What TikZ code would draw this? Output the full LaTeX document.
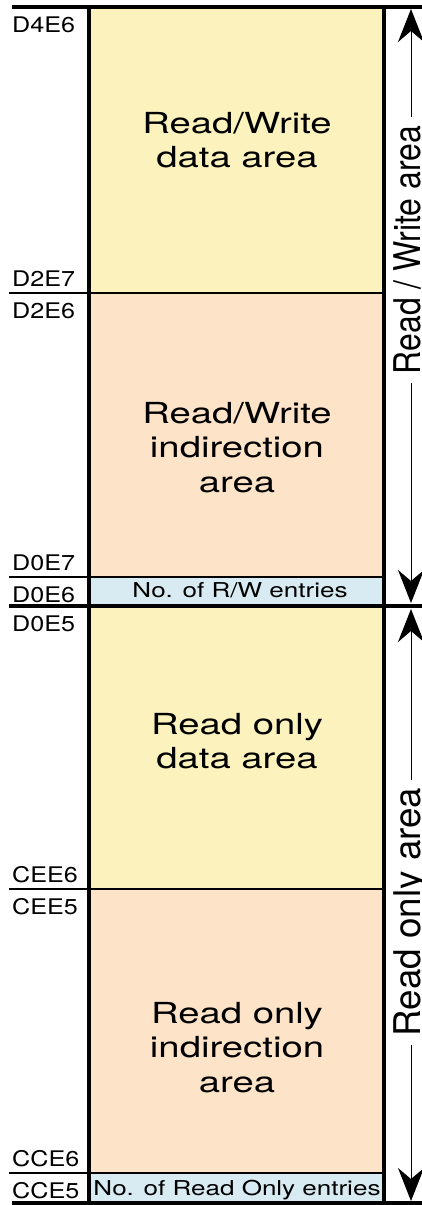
\documentclass[tikz,border=0pt]{standalone}
\usepackage{fontspec}
\setmainfont{TeX Gyre Heros}
\usepackage{graphicx}
\usetikzlibrary{arrows.meta}
\definecolor{areaYellow}{RGB}{251,242,190}
\definecolor{areaPeach}{RGB}{253,227,200}
\definecolor{areaBlue}{RGB}{216,235,242}
\newcommand{\mystack}[1]{\begin{tabular}[t]{@{}c@{}}#1\end{tabular}}
\begin{document}
\begin{tikzpicture}[x=1pt,y=-1pt,
  heavy/.style={line width=4pt},
  light/.style={line width=1.1pt},
  cell/.style={draw=none, inner sep=0pt, outer sep=0pt, anchor=north west, minimum width=295pt},
  addr/.style={anchor=base west, inner sep=0pt, font=\fontsize{21.5}{24}\selectfont},
  areatxt/.style={anchor=base, inner sep=0pt, font=\fontsize{29}{34.5}\selectfont},
  cnttxt/.style={anchor=base, inner sep=0pt, font=\fontsize{20.5}{24}\selectfont},
  sidetxt/.style={rotate=90, anchor=base, inner sep=0pt, font=\fontsize{32}{36}\selectfont},
  span/.style={line width=1pt, shorten <=8pt, -{Stealth[length=33pt,width=26pt,inset=11pt]}}
]
\useasboundingbox (0,0) rectangle (422,1205);

% cells
\node[cell, fill=areaYellow, minimum height=286pt] (rwdata) at (89,7) {};
\node[cell, fill=areaPeach,  minimum height=284pt] (rwind)  at (89,293) {};
\node[cell, fill=areaBlue,   minimum height=29pt]  (rwcnt)  at (89,577) {};
\node[cell, fill=areaYellow, minimum height=283pt] (rodata) at (89,606) {};
\node[cell, fill=areaPeach,  minimum height=284pt] (roind)  at (89,889) {};
\node[cell, fill=areaBlue,   minimum height=30pt]  (rocnt)  at (89,1173) {};

% cell texts
\node[areatxt] (rwdataT) at (237,133)  {\scalebox{1.32}[1]{\mystack{Read/Write\\data area}}};
\node[areatxt] (rwindT)  at (237,423)  {\scalebox{1.32}[1]{\mystack{Read/Write\\indirection\\area}}};
\node[areatxt] (rodataT) at (237,734)  {\scalebox{1.32}[1]{\mystack{Read only\\data area}}};
\node[areatxt] (roindT)  at (237,1023) {\scalebox{1.32}[1]{\mystack{Read only\\indirection\\area}}};
\node[cnttxt]  (rwcntT)  at (240,597)  {\scalebox{1.27}[1]{No. of R/W entries}};
\node[cnttxt]  (rocntT)  at (237,1195) {\scalebox{1.27}[1]{No. of Read Only entries}};

% address labels
\node[addr] (a1) at (12,32)   {\scalebox{1.17}[1]{D4E6}};
\node[addr] (a2) at (12,286)  {\scalebox{1.17}[1]{D2E7}};
\node[addr] (a3) at (12,318)  {\scalebox{1.17}[1]{D2E6}};
\node[addr] (a4) at (12,570)  {\scalebox{1.17}[1]{D0E7}};
\node[addr] (a5) at (12,602)  {\scalebox{1.17}[1]{D0E6}};
\node[addr] (a6) at (12,631)  {\scalebox{1.17}[1]{D0E5}};
\node[addr] (a7) at (12,882)  {\scalebox{1.17}[1]{CEE6}};
\node[addr] (a8) at (12,914)  {\scalebox{1.17}[1]{CEE5}};
\node[addr] (a9) at (12,1166) {\scalebox{1.17}[1]{CCE6}};
\node[addr] (a10) at (12,1198) {\scalebox{1.17}[1]{CCE5}};

% thin separators
\draw[light] (9,293)  -- (rwdata.south east);
\draw[light] (9,577)  -- (rwind.south east);
\draw[light] (9,889)  -- (rodata.south east);
\draw[light] (9,1173) -- (roind.south east);

% heavy frame
\draw[heavy] (12,7) -- (422,7);
\draw[heavy] (9,606) -- (422,606);
\draw[heavy] (12,1203) -- (422,1203);
\draw[heavy] (rwdata.north west) -- (rocnt.south west);
\draw[heavy] (rwdata.north east) -- (rocnt.south east);

% side labels and span arrows
\node[sidetxt] (rwside) at (420,250) {\scalebox{1}[1.15]{Read / Write area}};
\node[sidetxt] (roside) at (420,912) {\scalebox{1.15}[1.15]{Read only area}};
\coordinate (rwtop) at (411,9);
\coordinate (rwbot) at (411,603);
\coordinate (rotop) at (411,609);
\coordinate (robot) at (411,1201);
\draw[span] (rwside.east -| rwtop) -- (rwtop);
\draw[span] (rwside.west -| rwbot) -- (rwbot);
\draw[span] (roside.east -| rotop) -- (rotop);
\draw[span] (roside.west -| robot) -- (robot);
\end{tikzpicture}
\end{document}
